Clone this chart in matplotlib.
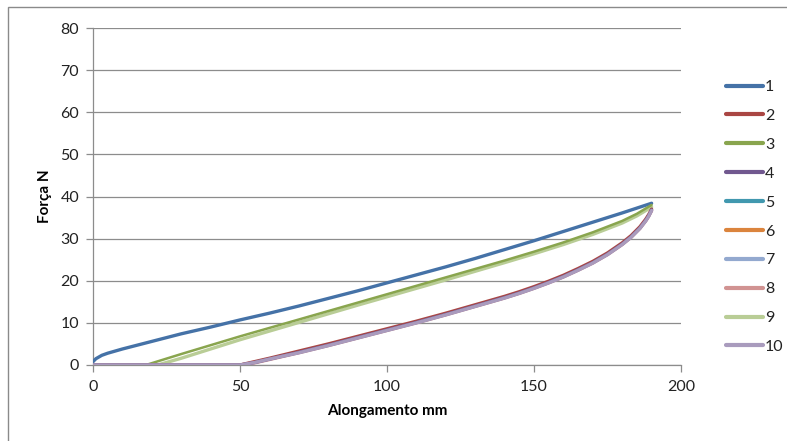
import matplotlib
matplotlib.use("Agg")
import matplotlib.pyplot as plt
from matplotlib.patches import Rectangle

# ---- data ----
x_s1 = [0, 1, 3, 5, 10, 20, 30, 40, 50, 60, 70, 80, 90, 100, 110, 120, 130, 140, 150, 160, 170, 180, 190]
y_s1 = [0.8, 1.5, 2.3, 2.8, 3.8, 5.6, 7.4, 9.0, 10.7, 12.3, 14.0, 15.8, 17.6, 19.5, 21.4, 23.3, 25.3, 27.4, 29.5, 31.7, 33.9, 36.1, 38.4]

x_s3 = [0, 18, 30, 50, 70, 90, 100, 120, 140, 150, 160, 170, 180, 185, 190]
y_s3 = [0, 0, 2.6, 6.8, 10.8, 14.8, 16.8, 20.8, 24.8, 26.9, 29.1, 31.5, 34.2, 35.9, 38.0]

x_s9 = [0, 22, 30, 50, 70, 90, 100, 120, 140, 150, 160, 170, 180, 185, 190]
y_s9 = [0, 0, 1.6, 6.0, 10.1, 14.2, 16.2, 20.2, 24.3, 26.4, 28.6, 31.0, 33.7, 35.4, 37.5]

x_s2 = [0, 50, 55, 60, 70, 80, 90, 100, 110, 120, 130, 140, 145, 150, 155, 160, 165, 170, 175, 180, 183, 186, 188, 189, 190]
y_s2 = [0, 0, 0.8, 1.6, 3.3, 5.0, 6.8, 8.6, 10.4, 12.3, 14.3, 16.3, 17.4, 18.6, 19.9, 21.3, 22.9, 24.6, 26.6, 29.0, 30.7, 32.8, 34.6, 35.7, 37.0]

x_s4 = x_s2
y_s4 = [0, 0, 0.6, 1.4, 3.0, 4.7, 6.5, 8.3, 10.1, 12.0, 14.0, 16.0, 17.1, 18.3, 19.6, 21.0, 22.6, 24.3, 26.3, 28.7, 30.4, 32.5, 34.3, 35.4, 36.8]

x_s8 = x_s2
y_s8 = [0, 0, 0.5, 1.3, 2.9, 4.6, 6.4, 8.2, 10.0, 11.9, 13.9, 15.9, 17.0, 18.2, 19.5, 20.9, 22.5, 24.2, 26.2, 28.6, 30.3, 32.4, 34.2, 35.3, 36.6]

x_s10 = x_s2
y_s10 = [0, 0, 0.6, 1.4, 2.9, 4.6, 6.4, 8.2, 10.0, 11.9, 13.9, 15.9, 17.0, 18.2, 19.5, 20.9, 22.5, 24.2, 26.2, 28.6, 30.3, 32.4, 34.2, 35.3, 36.7]

series_names = ["1", "2", "3", "4", "5", "6", "7", "8", "9", "10"]
series_colors = ["#4572A7", "#AA4643", "#89A54E", "#71588F", "#4198AF",
                 "#DB843D", "#93A9CF", "#D19392", "#B9CD96", "#A99BBD"]
series_data = {
    "1": (x_s1, y_s1),
    "2": (x_s2, y_s2),
    "3": (x_s3, y_s3),
    "4": (x_s4, y_s4),
    "5": ([], []),
    "6": ([], []),
    "7": ([], []),
    "8": (x_s8, y_s8),
    "9": (x_s9, y_s9),
    "10": (x_s10, y_s10),
}
x_ticks = [0, 50, 100, 150, 200]
y_ticks = [0, 10, 20, 30, 40, 50, 60, 70, 80]

plt.rcParams['font.family'] = ['Lato', 'DejaVu Sans']

fig = plt.figure(figsize=(7.87, 4.41), dpi=100)
fig.patch.set_facecolor("white")
# outer chart border
fig.add_artist(Rectangle((8 / 787, -0.01), 1.0, 1 - 7 / 441 + 0.01, transform=fig.transFigure,
                         fill=False, edgecolor="#8a8a8a", linewidth=1.0))

ax = fig.add_axes([93 / 787, 1 - 365 / 441, (681 - 93) / 787, (365 - 28) / 441])

draw_order = ["1", "5", "6", "7", "9", "3", "2", "8", "4", "10"]
handles = {}
for name, col in zip(series_names, series_colors):
    xs, ys = series_data[name]
    lw = 2.4 if name != "3" else 1.8
    (ln,) = ax.plot(xs, ys, color=col, linewidth=lw, solid_capstyle="round",
                    solid_joinstyle="round",
                    zorder=3 + draw_order.index(name) * 0.1, label=name)
    handles[name] = ln

ax.set_xlim(0, 200)
ax.set_ylim(0, 80)
ax.set_xticks(x_ticks)
ax.set_yticks(y_ticks)
ax.grid(axis="y", color="#8c8c8c", linewidth=0.9)
ax.set_axisbelow(True)
for s in ["top", "right"]:
    ax.spines[s].set_visible(False)
for s in ["left", "bottom"]:
    ax.spines[s].set_color("#8c8c8c")
    ax.spines[s].set_linewidth(0.9)
ax.tick_params(axis="both", colors="#8c8c8c", labelcolor="#222222", labelsize=11.5,
               length=5, width=0.9, direction="out")
ax.tick_params(axis="y", pad=5)
ax.tick_params(axis="x", pad=6)

ax.set_xlabel("Alongamento mm", fontsize=11, fontweight="bold", labelpad=7)
ax.set_ylabel("Força N", fontsize=11, fontweight="bold", labelpad=6)

leg = fig.legend([handles[n] for n in series_names], series_names,
                 loc="upper left", bbox_to_anchor=(718 / 787, 1 - 72 / 441),
                 frameon=False, fontsize=11.5, handlelength=2.3, handletextpad=0.15,
                 labelspacing=0.92, borderpad=0)
for t in leg.get_texts():
    t.set_color("#222222")
for h in leg.legend_handles:
    h.set_linewidth(3.0)

fig.savefig("out.png", dpi=100, facecolor="white")
